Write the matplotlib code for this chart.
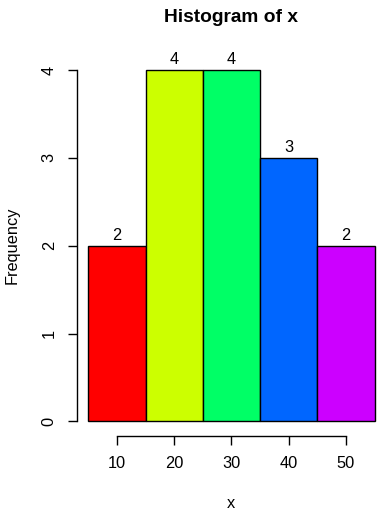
import matplotlib
matplotlib.use("Agg")
import matplotlib.pyplot as plt

plt.rcParams['font.family'] = ['Liberation Sans', 'DejaVu Sans']

# histogram bins and counts
breaks = [5, 15, 25, 35, 45, 55]
counts = [2, 4, 4, 3, 2]
colors = ['#FF0000', '#CCFF00', '#00FF66', '#0066FF', '#CC00FF']
xticks = [10, 20, 30, 40, 50]
yticks = [0, 1, 2, 3, 4]

W, H = 386, 519
fig = plt.figure(figsize=(W / 100, H / 100), dpi=100)
# plot region in pixels (R usr box)
left, right, top, bottom = 76.85, 386, 56, 435.5
ax = fig.add_axes([left / W, 1 - bottom / H, (right - left) / W, (bottom - top) / H])

lefts = breaks[:-1]
widths = [b - a for a, b in zip(breaks[:-1], breaks[1:])]
ax.bar(lefts, counts, width=widths, align='edge', color=colors,
       edgecolor='black', linewidth=1)

for x0, w, c in zip(lefts, widths, counts):
    ax.annotate(str(c), (x0 + w / 2, c), xytext=(0, 2), textcoords='offset points',
                ha='center', va='bottom', fontsize=11.8)

ax.set_xlim(3, 57)
ax.set_ylim(-0.16, 4.16)

for s in ['top', 'right']:
    ax.spines[s].set_visible(False)
ax.spines['bottom'].set_bounds(10, 50)
ax.spines['left'].set_bounds(0, 4)
ax.spines['bottom'].set_linewidth(1)
ax.spines['left'].set_linewidth(1)

ax.set_xticks(xticks)
ax.set_yticks(yticks)
ax.set_yticklabels([str(v) for v in yticks], rotation=90, va='center')
ax.tick_params(axis='x', length=6.5, width=1, pad=8, labelsize=11.8)
ax.tick_params(axis='y', length=6.5, width=1, pad=8, labelsize=11.8)

fig.text((left + right) / 2 / W, 1 - 504 / H, 'x', ha='center', va='center', fontsize=11.8)
fig.text(12 / W, 1 - (top + bottom) / 2 / H, 'Frequency', ha='center', va='center',
         rotation=90, fontsize=11.8)
fig.text((left + right) / 2 / W, 1 - 17 / H, 'Histogram of x', ha='center', va='center',
         fontsize=13.8, fontweight='bold')

fig.savefig('out.png', dpi=100)
